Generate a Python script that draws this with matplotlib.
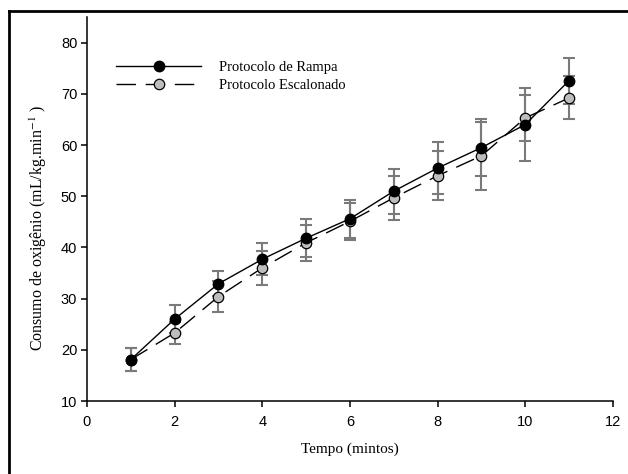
import matplotlib
matplotlib.use("Agg")
import matplotlib.pyplot as plt
from matplotlib.lines import Line2D

plt.rcParams['mathtext.fontset'] = 'stix'

tempo = [1, 2, 3, 4, 5, 6, 7, 8, 9, 10, 11]
rampa = [18.1, 26.0, 32.9, 37.7, 41.8, 45.6, 51.0, 55.5, 59.5, 64.0, 72.6]
rampa_err = [2.2, 2.7, 2.4, 3.1, 3.7, 3.7, 4.4, 5.1, 5.6, 7.2, 4.5]
escalonado = [18.1, 23.3, 30.4, 36.0, 40.9, 45.1, 49.7, 54.0, 57.9, 65.3, 69.2]
escalonado_err = [2.2, 2.1, 3.1, 3.3, 3.5, 3.6, 4.3, 4.8, 6.6, 4.5, 4.2]

xticks = [0, 2, 4, 6, 8, 10, 12]
yticks = [10, 20, 30, 40, 50, 60, 70, 80]

serif = 'Liberation Serif'
sans = 'Liberation Sans'

fig = plt.figure(figsize=(6.28, 4.74), dpi=100)
ax = fig.add_axes([0.1385, 0.154, 0.8375, 0.81])

err_style = dict(fmt='none', ecolor='#7a7a7a', elinewidth=1.5, capsize=4, capthick=1.5, zorder=1)
ax.errorbar(tempo, rampa, yerr=rampa_err, **err_style)
ax.errorbar(tempo, escalonado, yerr=escalonado_err, **err_style)

ax.plot(tempo, rampa, color='black', lw=1, marker='o', ms=7.5,
        mfc='black', mec='black', zorder=3, label='Protocolo de Rampa')
ax.plot(tempo, escalonado, color='black', lw=1, dashes=(14, 7), marker='o', ms=7.5,
        mfc='#bdbdbd', mec='black', mew=0.9, zorder=2, label='Protocolo Escalonado')

ax.set_xlim(0, 12)
ax.set_ylim(10, 85)
ax.set_xticks(xticks)
ax.set_yticks(yticks)
for s in ['top', 'right']:
    ax.spines[s].set_visible(False)
for s in ['left', 'bottom']:
    ax.spines[s].set_linewidth(1.1)
ax.tick_params(direction='out', length=4, width=1.1, labelsize=10.5, pad=3)
ax.tick_params(axis='x', pad=6)
for lab in ax.get_xticklabels() + ax.get_yticklabels():
    lab.set_fontfamily(sans)

ax.set_xlabel('Tempo (mintos)', fontfamily=serif, fontsize=11, labelpad=10)
ax.set_ylabel('Consumo de oxigênio (mL/kg.min$^{-1}$ )', fontfamily=serif, fontsize=11.5)
ax.yaxis.set_label_coords(-0.072, 0.45)

ax.legend(loc='upper left', bbox_to_anchor=(0.045, 0.90), frameon=False,
          prop={'family': serif, 'size': 10.5}, handlelength=5.8, handletextpad=1.2,
          labelspacing=0.3, borderaxespad=0)

# borda da figura (esquerda e topo)
fig.add_artist(Line2D([0.014, 0.014], [0, 0.977], transform=fig.transFigure, color='black', lw=2))
fig.add_artist(Line2D([0.014, 1.0], [0.977, 0.977], transform=fig.transFigure, color='black', lw=2))

fig.savefig('out.png', dpi=100)
